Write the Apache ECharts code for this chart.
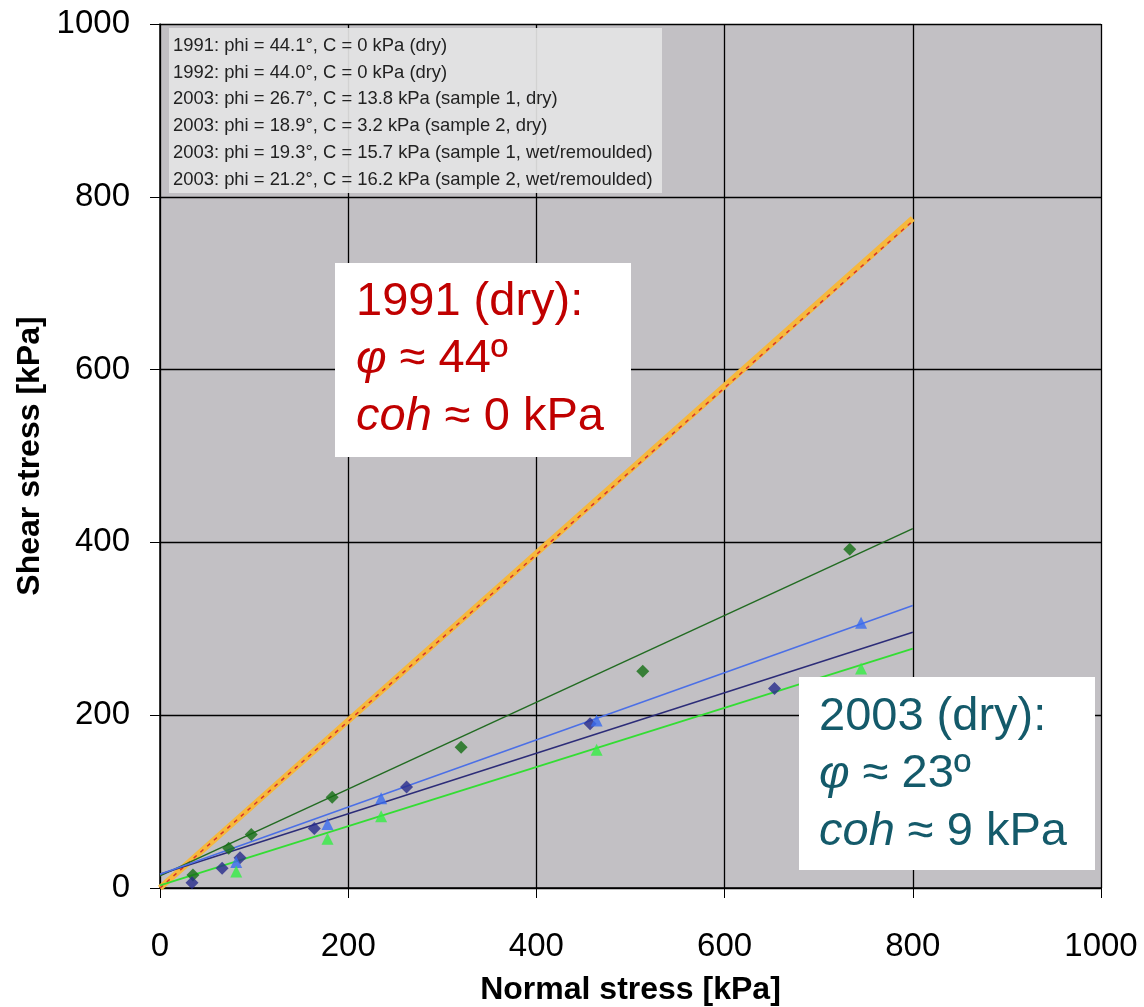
<!DOCTYPE html>
<html>
<head>
<meta charset="utf-8">
<script src="https://cdn.jsdelivr.net/npm/echarts@6/dist/echarts.min.js"></script>
<style>
  html, body { margin: 0; padding: 0; background: #fff; }
  #chart { width: 1144px; height: 1007px; }
</style>
</head>
<body>
<div id="chart"></div>
<script>
// axis ticks
var ticks = [0, 200, 400, 600, 800, 1000];

// fitted envelopes (normal stress -> shear stress), read at both ends
var line1991 = [[0, 0], [800, 775]];
var line1992 = [[0, 0], [800, 772]];
var lineS1dry = [[0, 14], [800, 416]];
var lineS2dry = [[0, 3], [800, 277]];
var lineS1wet = [[0, 16], [800, 296]];
var lineS2wet = [[0, 16], [800, 327]];

// test points
var ptsS1dry = [[35, 15], [73, 46], [97, 62], [183, 105], [320, 163], [513, 251], [733, 392]];
var ptsS1wet = [[34, 6], [66, 23], [85, 35], [164, 69], [262, 117], [457, 190], [653, 231]];
var ptsS2wet = [[81, 30], [178, 74], [235, 104], [464, 194], [745, 307]];
var ptsS2dry = [[81, 19], [178, 57], [235, 83], [464, 160], [745, 254]];

var legendLines = [
  '1991: phi = 44.1°, C = 0 kPa (dry)',
  '1992: phi = 44.0°, C = 0 kPa (dry)',
  '2003: phi = 26.7°, C = 13.8 kPa (sample 1, dry)',
  '2003: phi = 18.9°, C = 3.2 kPa (sample 2, dry)',
  '2003: phi = 19.3°, C = 15.7 kPa (sample 1, wet/remoulded)',
  '2003: phi = 21.2°, C = 16.2 kPa (sample 2, wet/remoulded)'
];

var note1991 = ['1991 (dry):', '{i|φ} ≈ 44º', '{i|coh} ≈ 0 kPa'];
var note2003 = ['2003 (dry):', '{i|φ} ≈ 23º', '{i|coh} ≈ 9 kPa'];

var FONT = '"Liberation Sans", Arial, sans-serif';
var chart = echarts.init(document.getElementById('chart'));

function lineSeries(data, color, width, type) {
  return {
    type: 'line',
    data: data,
    showSymbol: false,
    symbol: 'none',
    lineStyle: { color: color, width: width, type: type || 'solid' },
    silent: true,
    z: 3
  };
}
function dotSeries(data, color, symbol, size) {
  return {
    type: 'scatter',
    data: data,
    symbol: symbol,
    symbolSize: size,
    itemStyle: { color: color },
    z: 4
  };
}

// note boxes and legend text
var graphics = [];
graphics.push({
  type: 'rect', z: 100,
  shape: { x: 169, y: 28, width: 493, height: 165 },
  style: { fill: '#e4e4e4', opacity: 0.92 }
});
legendLines.forEach(function (t, i) {
  graphics.push({
    type: 'text', z: 101,
    style: { x: 173, y: 46 + i * 26.7, text: t, fill: '#222', font: '18.4px ' + FONT, verticalAlign: 'middle' }
  });
});

function addNote(x0, y0, w, h, lines, color, tx, ty) {
  graphics.push({
    type: 'rect', z: 100,
    shape: { x: x0, y: y0, width: w, height: h },
    style: { fill: '#fff' }
  });
  lines.forEach(function (t, i) {
    graphics.push({
      type: 'text', z: 101,
      style: {
        x: tx, y: ty + i * 57.5, text: t, fill: color,
        fontSize: 47, fontFamily: FONT, verticalAlign: 'middle',
        rich: { i: { fontStyle: 'italic', fontSize: 47, fontFamily: FONT, fill: color } }
      }
    });
  });
}
addNote(335, 263, 296, 194, note1991, '#c00000', 356, 302);
addNote(799, 677, 296, 193, note2003, '#145a6a', 819, 717);

var option = {
  animation: false,
  backgroundColor: '#fff',
  grid: {
    show: true,
    left: 160, right: 43, top: 24, bottom: 119,
    outerBoundsMode: 'none',
    containLabel: false,
    backgroundColor: '#c2c0c4',
    borderWidth: 0
  },
  xAxis: {
    type: 'value',
    min: ticks[0], max: ticks[ticks.length - 1], interval: 200,
    name: 'Normal stress [kPa]',
    nameLocation: 'middle',
    nameGap: 86,
    nameTextStyle: { fontSize: 32, fontWeight: 'bold', fontFamily: FONT, color: '#000' },
    axisLine: { lineStyle: { color: '#000', width: 1.5 } },
    axisTick: { show: true, length: 10, lineStyle: { color: '#000' } },
    axisLabel: { fontSize: 33, fontFamily: FONT, color: '#000', margin: 42, formatter: function (v) { return String(v); } },
    splitLine: { show: true, lineStyle: { color: '#000', width: 1.3 } }
  },
  yAxis: {
    type: 'value',
    min: ticks[0], max: ticks[ticks.length - 1], interval: 200,
    name: 'Shear stress [kPa]',
    nameLocation: 'middle',
    nameGap: 105,
    nameTextStyle: { fontSize: 32, fontWeight: 'bold', fontFamily: FONT, color: '#000' },
    axisLine: { show: true, lineStyle: { color: '#000', width: 1.5 } },
    axisTick: { show: true, length: 10, lineStyle: { color: '#000' } },
    axisLabel: { fontSize: 33, fontFamily: FONT, color: '#000', margin: 30, formatter: function (v) { return String(v); } },
    splitLine: { show: true, lineStyle: { color: '#000', width: 1.3 } }
  },
  series: [
    lineSeries(line1991, '#f6b83c', 6),
    lineSeries(line1992, '#d8322a', 1.5, [4, 5]),
    lineSeries(lineS1dry, '#226b22', 1.5),
    lineSeries(lineS1wet, '#2c2c78', 1.5),
    lineSeries(lineS2wet, '#4b6fe6', 1.5),
    lineSeries(lineS2dry, '#33dd33', 1.8),
    dotSeries(ptsS1dry, '#146e14', 'diamond', 13),
    dotSeries(ptsS1wet, '#272a8c', 'diamond', 13),
    dotSeries(ptsS2wet, '#3a6cf0', 'triangle', 12),
    dotSeries(ptsS2dry, '#33ee44', 'triangle', 12)
  ],
  graphic: graphics
};
chart.setOption(option);
</script>
</body>
</html>
